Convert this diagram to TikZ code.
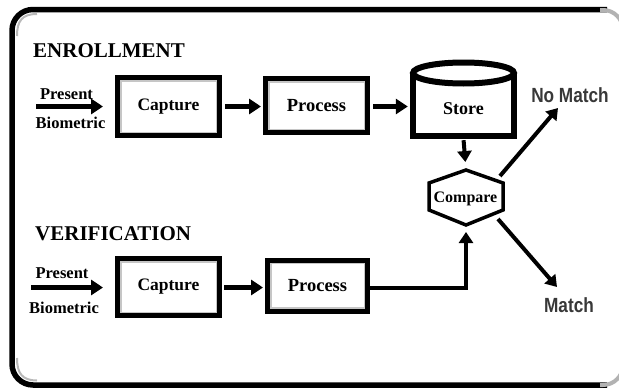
\documentclass[tikz,border=0pt]{standalone}
\usepackage{fontspec}
\setmainfont{Liberation Serif}
\newfontfamily\labelsans{Liberation Sans}
\usetikzlibrary{arrows.meta}

\begin{document}
\begin{tikzpicture}[x=1pt,y=-1pt,
  box/.style={draw, line width=5pt, inner sep=0pt,
              font=\bfseries\fontsize{17.5}{17.5}\selectfont,
              path picture={\draw[gray!45, line width=8pt]
                (path picture bounding box.south west) rectangle
                (path picture bounding box.north east);}},
  flow/.style={line width=5pt, -{Triangle[length=12pt,width=15pt]}},
  slimflow/.style={line width=4pt, -{Triangle[length=11pt,width=14pt]}},
  caption/.style={font=\bfseries\fontsize{16.5}{16.5}\selectfont, inner sep=0pt},
  heading/.style={font=\bfseries\fontsize{21}{21}\selectfont, anchor=west, inner sep=0pt},
  result/.style={font=\labelsans\bfseries\fontsize{20.5}{20.5}\selectfont, text=black!78, inner sep=0pt}
]
\useasboundingbox (0,0) rectangle (619,388);
\clip (0,0) rectangle (619,388);

% outer frame
\draw[line width=5.5pt, rounded corners=21pt] (607,9.5) -- (12,9.5) -- (12,385) -- (607,385);
\draw[gray!60, line width=4pt, rounded corners=20pt] (600,10) -- (623,10) -- (623,385) -- (600,385);
\draw[gray!55, line width=2pt] (17,36) .. controls (17,21) and (22,14) .. (37,14);
\draw[gray!55, line width=2pt] (17,358) .. controls (17,373) and (22,380.5) .. (37,380.5);

% section headings
\node[heading] (enrl) at (33,51) {ENROLLMENT};
\node[heading] (verf) at (35,234) {VERIFICATION};

% enrollment row
\node[caption] (pres1) at (66.5,94) {Present};
\node[caption] (bio1) at (70.5,122.5) {Biometric};
\coordinate (in1) at (36,106.5);
\node[box, minimum width=102pt, minimum height=58pt] (cap1) at (168.5,106.5) {Capture};
\node[box, minimum width=102pt, minimum height=54pt,
      font=\bfseries\fontsize{18.5}{18.5}\selectfont] (proc1) at (316.5,105.5) {Process};

% store (cylinder)
\fill[white] (413,74) rectangle (514,136);
\draw[line width=6pt] (413,74) -- (413,136) -- (514,136) -- (514,74);
\draw[line width=6pt, fill=white] (463.5,73) ellipse [x radius=50.5, y radius=10.5];
\node[font=\bfseries\fontsize{18}{18}\selectfont, inner sep=0pt,
      minimum width=107pt, minimum height=60pt] (store) at (463.5,109) {Store};

% compare (hexagon)
\coordinate (hxT) at (466,170);
\coordinate (hxUR) at (503,183);
\coordinate (hxLR) at (503,210);
\coordinate (hxB) at (466,225);
\coordinate (hxLL) at (429,210);
\coordinate (hxUL) at (429,183);
\draw[line width=3.5pt, line join=miter, fill=white]
  (hxT) -- (hxUR) -- (hxLR) -- (hxB) -- (hxLL) -- (hxUL) -- cycle;
\node[font=\bfseries\fontsize{16}{16}\selectfont, inner sep=0pt] (compare) at (465.5,198.5) {Compare};

% outcomes (condensed sans labels)
\node[result] (nomatch) at (570,95) {\scalebox{0.84}[1]{No Match}};
\node[result] (match) at (569,305.5) {\scalebox{0.84}[1]{Match}};
\coordinate (nmTail) at (500,176);
\coordinate (nmTip) at (558,108);
\coordinate (mTail) at (498,219);
\coordinate (mTip) at (557,287);

% verification row
\node[caption] (pres2) at (62,273.5) {Present};
\node[caption] (bio2) at (64,307.5) {Biometric};
\coordinate (in2) at (31,287.5);
\node[box, minimum width=102pt, minimum height=57pt] (cap2) at (168.5,287) {Capture};
\node[box, minimum width=100pt, minimum height=51pt,
      font=\bfseries\fontsize{18.5}{18.5}\selectfont] (proc2) at (317.5,285.5) {Process};

% connectors: enrollment
\draw[flow, shorten >=12pt] (in1) -- (cap1.west |- in1);
\draw[flow, shorten <=3pt, shorten >=2pt] (cap1.east |- in1) -- (proc1.west |- in1);
\draw[flow, shorten <=3pt, shorten >=2pt] (proc1.east |- in1) -- (store.west |- in1);
\draw[slimflow, shorten <=1pt, shorten >=8pt] (store.south) -- (hxT);

% connectors: verification
\draw[flow, shorten >=12pt] (in2) -- (cap2.west |- in2);
\draw[flow, shorten <=2pt, shorten >=2pt] (cap2.east |- in2) -- (proc2.west |- in2);
\draw[slimflow, shorten >=7pt] (proc2.east |- in2) -| (hxB);

% connectors: outcomes
\draw[slimflow] (nmTail) -- (nmTip);
\draw[slimflow] (mTail) -- (mTip);
\end{tikzpicture}
\end{document}
